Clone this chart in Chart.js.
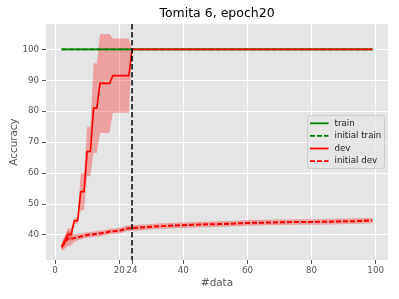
<!DOCTYPE html>
<html><head><meta charset="utf-8">
<script src="https://cdn.jsdelivr.net/npm/chart.js@4"></script>
<style>html,body{margin:0;padding:0;background:#fff;}canvas{display:block}</style>
</head><body>
<canvas id="c" width="399" height="299"></canvas>
<script>
const titleText = "Tomita 6, epoch20";
const xLabel = "#data";
const yLabel = "Accuracy";
const xTicks = [0, 20, 24, 40, 60, 80, 100];
const yTicks = [40, 50, 60, 70, 80, 90, 100];
const legendLabels = ["train", "initial train", "dev", "initial dev"];
const cutoffX = 24;

const trainX = [2, 99];
const trainY = [100, 100];
const initTrainX = [2, 99];
const initTrainY = [100, 100];

const devX   = [2, 3, 4, 5, 6, 7, 8, 9, 10, 11, 12, 13, 14, 15, 16, 17, 18, 19, 20, 21, 22, 23, 24, 99];
const devY   = [36, 38, 40.2, 40.2, 44.6, 44.6, 54, 54, 67, 67, 81, 81, 89, 89, 89, 89, 91.5, 91.5, 91.5, 91.5, 91.5, 91.5, 100, 100];
const devStd = [1, 1.5, 2, 2, 1, 1, 6, 6, 8, 8, 14.5, 14.5, 16, 16, 16, 16, 12, 12, 12, 12, 12, 12, 0, 0];

const initDevX   = [2, 3, 4, 5, 6, 7, 8, 10, 12, 14, 16, 17, 19, 21, 22, 24, 28, 32, 36, 41, 46, 51, 56, 61, 66, 71, 76, 81, 86, 91, 95, 99];
const initDevY   = [36.2, 37.5, 38.9, 38.7, 39, 39.2, 39.5, 40, 40.2, 40.5, 40.8, 41.1, 41.3, 41.6, 42.1, 42.2, 42.5, 42.8, 43, 43.2, 43.4, 43.5, 43.7, 43.9, 44, 44.1, 44.2, 44.2, 44.3, 44.4, 44.5, 44.7];
const initDevStd = [1.5, 2, 2.5, 2, 1.2, 1, 0.9, 0.9, 0.9, 0.9, 0.9, 0.9, 0.9, 0.9, 0.9, 0.9, 0.9, 0.9, 0.9, 0.9, 0.9, 0.9, 0.9, 0.9, 0.9, 0.9, 0.9, 0.9, 0.9, 0.9, 0.9, 0.9];

const pts = (xs, ys) => xs.map((x, i) => ({x: x, y: ys[i]}));
const FONT = "DejaVu Sans";
const GREEN = "#008000", RED = "#ff0000", BAND = "rgba(255,0,0,0.3)";

const datasets = [
  {label: "devLo", data: pts(devX, devY.map((v, i) => v - devStd[i])), borderWidth: 0, pointRadius: 0, fill: false, order: 9},
  {label: "devHi", data: pts(devX, devY.map((v, i) => v + devStd[i])), borderWidth: 0, pointRadius: 0, fill: {target: 0}, backgroundColor: BAND, order: 9},
  {label: "idevLo", data: pts(initDevX, initDevY.map((v, i) => v - initDevStd[i])), borderWidth: 0, pointRadius: 0, fill: false, order: 9},
  {label: "idevHi", data: pts(initDevX, initDevY.map((v, i) => v + initDevStd[i])), borderWidth: 0, pointRadius: 0, fill: {target: 2}, backgroundColor: BAND, order: 9},
  {label: legendLabels[0], data: pts(trainX, trainY), borderColor: GREEN, borderWidth: 1.6, pointRadius: 0, fill: false, order: 6},
  {label: legendLabels[1], data: pts(initTrainX, initTrainY), borderColor: GREEN, borderWidth: 1.8, borderDash: [5, 2], pointRadius: 0, fill: false, order: 5},
  {label: legendLabels[2], data: pts(devX, devY), borderColor: RED, borderWidth: 1.6, pointRadius: 0, fill: false, order: 4},
  {label: legendLabels[3], data: pts(initDevX, initDevY), borderColor: RED, borderWidth: 2, borderDash: [5, 2], pointRadius: 0, fill: false, order: 3}
];

const deco = {
  id: "deco",
  beforeDraw(chart) {
    const {ctx, chartArea: a} = chart;
    ctx.save();
    ctx.fillStyle = "#e5e5e5";
    ctx.fillRect(a.left, a.top, a.right - a.left, a.bottom - a.top);
    ctx.restore();
  },
  afterDatasetsDraw(chart) {
    const {ctx, chartArea: a, scales} = chart;
    const px = scales.x.getPixelForValue(cutoffX);
    ctx.save();
    ctx.beginPath();
    ctx.rect(a.left, a.top, a.right - a.left, a.bottom - a.top);
    ctx.clip();
    ctx.strokeStyle = "#000";
    ctx.lineWidth = 1.5;
    ctx.setLineDash([5.5, 2.5]);
    ctx.beginPath();
    ctx.moveTo(px, a.top);
    ctx.lineTo(px, a.bottom);
    ctx.stroke();
    ctx.restore();
  },
  afterDraw(chart) {
    const {ctx, chartArea: a} = chart;
    ctx.save();
    ctx.fillStyle = "#000";
    ctx.font = "12.5px '" + FONT + "'";
    ctx.textAlign = "center";
    ctx.textBaseline = "middle";
    ctx.fillText(titleText, (a.left + a.right) / 2, 14);
    ctx.fillStyle = "#555555";
    ctx.font = "10.4px '" + FONT + "'";
    ctx.fillText(xLabel, (a.left + a.right) / 2, 283);
    ctx.save();
    ctx.translate(14, (a.top + a.bottom) / 2);
    ctx.rotate(-Math.PI / 2);
    ctx.fillText(yLabel, 0, 0);
    ctx.restore();
    const bx = 307.5, by = 115.5, bw = 77, bh = 53, r = 3;
    ctx.beginPath();
    ctx.moveTo(bx + r, by);
    ctx.arcTo(bx + bw, by, bx + bw, by + bh, r);
    ctx.arcTo(bx + bw, by + bh, bx, by + bh, r);
    ctx.arcTo(bx, by + bh, bx, by, r);
    ctx.arcTo(bx, by, bx + bw, by, r);
    ctx.closePath();
    ctx.fillStyle = "rgba(229,229,229,0.8)";
    ctx.fill();
    ctx.strokeStyle = "#cccccc";
    ctx.lineWidth = 1;
    ctx.stroke();
    const styles = [
      {c: GREEN, d: []}, {c: GREEN, d: [5, 2]}, {c: RED, d: []}, {c: RED, d: [5, 2]}
    ];
    ctx.font = "8.7px '" + FONT + "'";
    ctx.textAlign = "left";
    ctx.textBaseline = "middle";
    legendLabels.forEach((lab, i) => {
      const y = 123.3 + i * 12.6;
      ctx.strokeStyle = styles[i].c;
      ctx.lineWidth = 1.8;
      ctx.setLineDash(styles[i].d);
      ctx.beginPath();
      ctx.moveTo(310, y);
      ctx.lineTo(328.5, y);
      ctx.stroke();
      ctx.setLineDash([]);
      ctx.fillStyle = "#222";
      ctx.fillText(lab, 334.5, y);
    });
    ctx.restore();
  }
};

new Chart(document.getElementById("c"), {
  type: "line",
  data: {datasets: datasets},
  options: {
    responsive: false,
    animation: false,
    devicePixelRatio: 1,
    layout: {padding: {top: 24, right: 11, left: 0, bottom: 0}},
    plugins: {legend: {display: false}, tooltip: {enabled: false}, title: {display: false}},
    elements: {line: {tension: 0}},
    scales: {
      x: {
        type: "linear", min: -2.85, max: 103.85,
        afterFit(s) { s.height = 39; },
        afterBuildTicks(s) { s.ticks = xTicks.map(v => ({value: v})); },
        grid: {color: "#ffffff", lineWidth: 1, tickColor: "#555555", tickLength: 4},
        border: {display: false},
        ticks: {autoSkip: false, maxRotation: 0, padding: 2, color: "#555555", font: {family: FONT, size: 8.7}}
      },
      y: {
        type: "linear", min: 31.9, max: 108.2,
        afterFit(s) { s.width = 46; },
        afterBuildTicks(s) { s.ticks = yTicks.map(v => ({value: v})); },
        grid: {color: "#ffffff", lineWidth: 1, tickColor: "#555555", tickLength: 4},
        border: {display: false},
        ticks: {padding: 3, color: "#555555", font: {family: FONT, size: 8.7}}
      }
    }
  },
  plugins: [deco]
});
</script>
</body></html>
